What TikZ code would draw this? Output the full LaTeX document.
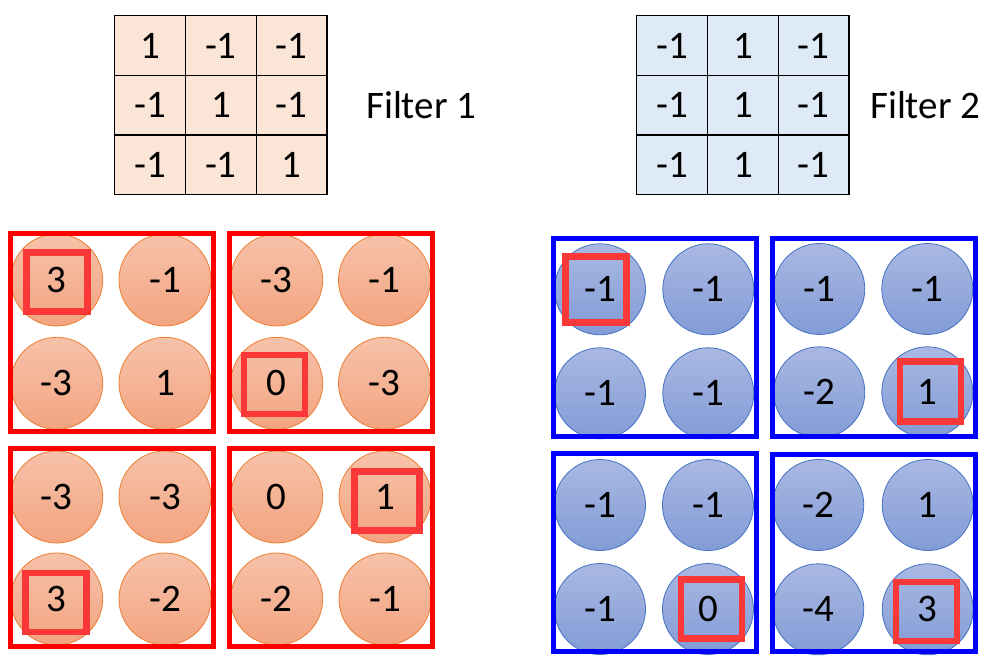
\documentclass[tikz,border=0pt]{standalone}
\usepackage{fontspec}
\setmainfont{Carlito}

\definecolor{peach}{RGB}{251,229,214}
\definecolor{ice}{RGB}{222,235,247}
\definecolor{salmontop}{RGB}{246,194,170}
\definecolor{salmonbot}{RGB}{243,164,128}
\definecolor{salmonline}{RGB}{237,125,49}
\definecolor{bluetop}{RGB}{170,184,226}
\definecolor{bluebot}{RGB}{130,156,214}
\definecolor{blueline}{RGB}{68,114,196}
\definecolor{hlred}{RGB}{250,56,56}

\tikzset{
    num/.style={font=\fontsize{39}{40}\selectfont},
    cell/.style={num,draw=black,line width=1.4pt,inner sep=0pt,
        minimum width=70.8pt,minimum height=59.7pt},
    rdot/.style={num,circle,inner sep=0pt,minimum size=92pt,
        draw=salmonline,line width=0.8pt,top color=salmontop,bottom color=salmonbot},
    bdot/.style={num,circle,inner sep=0pt,minimum size=91pt,
        draw=blueline,line width=0.8pt,top color=bluetop,bottom color=bluebot},
    rframe/.style={draw=red,line width=5pt,minimum width=203pt,minimum height=197.5pt},
    bframe/.style={draw=blue,line width=5pt,minimum width=203pt,minimum height=197.5pt},
    hl/.style={draw=hlred,line width=6.5pt,minimum width=61pt,minimum height=59pt}
}

\begin{document}
\begin{tikzpicture}[x=1pt,y=-1pt]
        \useasboundingbox (0,0) rectangle (987,658);

        % the two filters
        \foreach \row [count=\r] in {{1,-1,-1},{-1,1,-1},{-1,-1,1}}
            \foreach \v [count=\c] in \row
                \node[cell,fill=peach] (fa\r\c) at (79.3+70.8*\c,-14.2+59.7*\r) {\v};
        \foreach \row [count=\r] in {{-1,1,-1},{-1,1,-1},{-1,1,-1}}
            \foreach \v [count=\c] in \row
                \node[cell,fill=ice] (fb\r\c) at (601.3+70.8*\c,-14.2+59.7*\r) {\v};
        \node[num,anchor=base west,inner sep=0pt] (f1) at (366,118) {Filter 1};
        \node[num,anchor=base west,inner sep=0pt] (f2) at (870,118) {Filter 2};

        % feature maps of filter 1
        \node[rdot] (ra1) at (56.7,280) {3};    \node[rdot] (ra2) at (165,280) {-1};
        \node[rdot] (ra3) at (56.7,383.3) {-3}; \node[rdot] (ra4) at (165,383.3) {1};
        \node[rdot] (rb1) at (276.7,280) {-3};  \node[rdot] (rb2) at (384.5,280) {-1};
        \node[rdot] (rb3) at (276.7,383.3) {0}; \node[rdot] (rb4) at (384.5,383.3) {-3};
        \node[rdot] (rc1) at (56.7,497) {-3};   \node[rdot] (rc2) at (165,497) {-3};
        \node[rdot] (rc3) at (56.7,599) {3};    \node[rdot] (rc4) at (165,599) {-2};
        \node[rdot] (rd1) at (276.7,497) {0};   \node[rdot] (rd2) at (385,497) {1};
        \node[rdot] (rd3) at (276.7,599) {-2};  \node[rdot] (rd4) at (385,599) {-1};

        \node[rframe] (ra) at (111.5,332.25) {};
        \node[rframe] (rb) at (330.75,332.25) {};
        \node[rframe] (rc) at (111.5,547.5) {};
        \node[rframe] (rd) at (330.75,547.5) {};

        % feature maps of filter 2
        \node[bdot] (ba1) at (600,289.3) {-1};   \node[bdot] (ba2) at (708.3,289.3) {-1};
        \node[bdot] (ba3) at (600,393.3) {-1};   \node[bdot] (ba4) at (708.3,393.3) {-1};
        \node[bdot] (bb1) at (819.3,289) {-1};   \node[bdot] (bb2) at (927.3,289) {-1};
        \node[bdot] (bb3) at (819.3,392.3) {-2}; \node[bdot] (bb4) at (927.3,392.3) {1};
        \node[bdot] (bc1) at (600,505) {-1};     \node[bdot] (bc2) at (708,505) {-1};
        \node[bdot] (bc3) at (600,609) {-1};     \node[bdot] (bc4) at (708,609) {0};
        \node[bdot] (bd1) at (818.3,505) {-2};   \node[bdot] (bd2) at (927.7,505) {1};
        \node[bdot] (bd3) at (818.3,609.3) {-4}; \node[bdot] (bd4) at (927.7,609.3) {3};

        \node[bframe] (ba) at (654.5,337.25) {};
        \node[bframe] (bb) at (874,337.25) {};
        \node[bframe] (bc) at (654.5,552.5) {};
        \node[bframe] (bd) at (874.2,553.2) {};

        % max in each map
        \node[hl] (ha) at (57,282) {};
        \node[hl] (hb) at (274.5,384.7) {};
        \node[hl] (hc) at (55.8,602.5) {};
        \node[hl,minimum width=65pt] (hd) at (387,500.8) {};
        \node[hl,minimum height=66pt] (he) at (595.8,289.3) {};
        \node[hl,minimum height=60pt] (hf) at (930.3,391.7) {};
        \node[hl] (hg) at (711.7,609) {};
        \node[hl] (hh) at (926.5,611.3) {};
\end{tikzpicture}
\end{document}
